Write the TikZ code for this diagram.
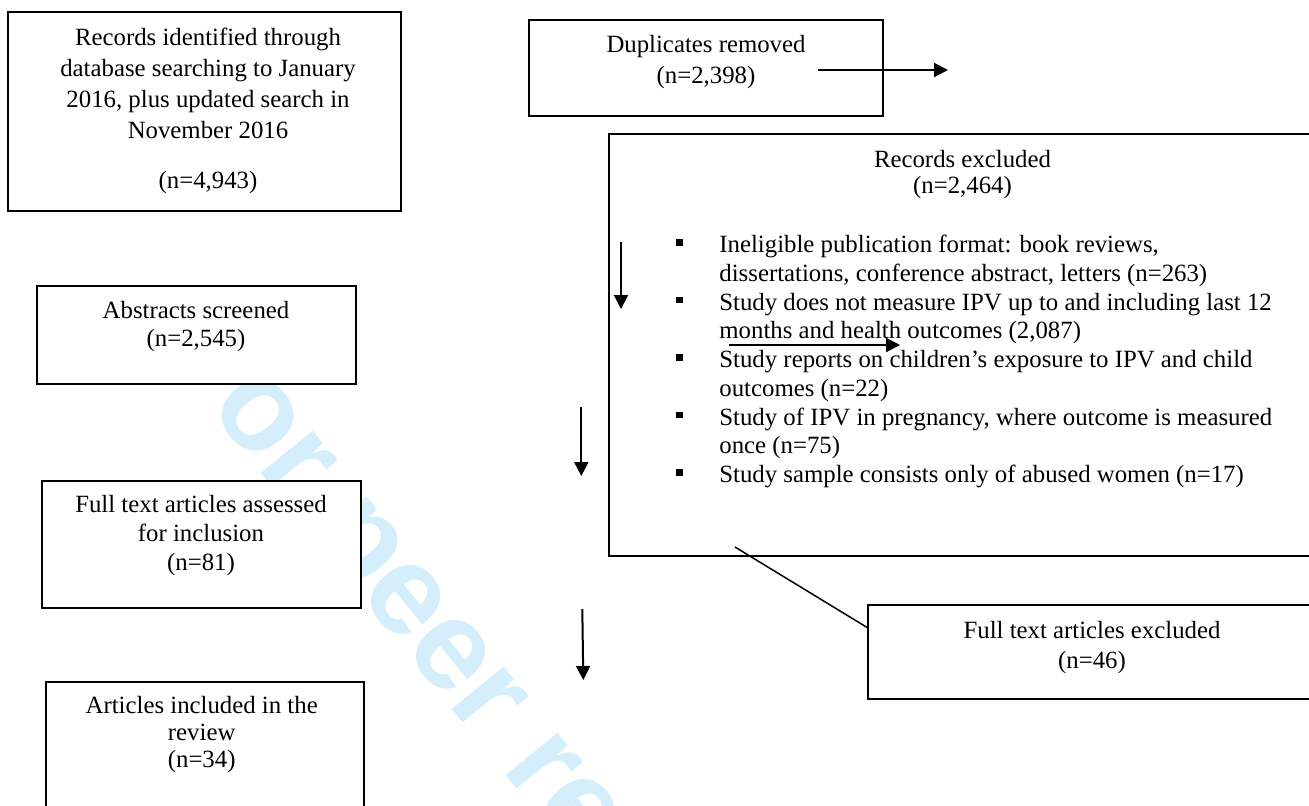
\documentclass[tikz,border=0pt]{standalone}
\usepackage{fontspec}
\setmainfont{Liberation Serif}
\newfontfamily\wmfont{Liberation Sans}
\usetikzlibrary{arrows.meta,fit}
\definecolor{wmblue}{RGB}{212,238,251}
\newcommand\listbullet{\llap{\rule[3.5pt]{3.3pt}{3.3pt}\hspace{18.2pt}}}
\begin{document}
\begin{tikzpicture}[x=0.5pt,y=-0.5pt,
  box/.style={draw=black, line width=0.75pt, fill=white, inner sep=0pt},
  txt/.style={inner sep=0pt, align=center},
  arr/.style={line width=1pt, -{Triangle[length=7pt,width=7pt]}},
  link/.style={line width=0.75pt},
  wm/.style={inner sep=0pt, text=wmblue, font=\wmfont\bfseries\fontsize{63.5}{63.5}\selectfont}]
\useasboundingbox (0,0) rectangle (1309,805);
\begin{scope}
\clip (0,0) rectangle (1309,805);
% watermark
\node[wm, anchor=base west, rotate=-51] (wmk) at (158,346) {For peer review only};
% boxes
\node[box, fit={(8,12)(401,211)}] (rec) {};
\node[box, fit={(529,20)(883,116)}] (dup) {};
\node[box, fit={(609,134)(1330,556)}] (excl) {};
\node[box, fit={(37,286)(356,384)}] (abs) {};
\node[box, fit={(42,481)(361,608)}] (full) {};
\node[box, fit={(46,682)(364,830)}] (incl) {};
\node[box, fit={(868,605)(1330,699)}] (fexc) {};
\end{scope}
% texts (anchor=base is the baseline of the last line)
\node[txt, anchor=base, font=\fontsize{12.4}{15.5}\selectfont] (rect) at (208,188)
  {Records identified through\\database searching to January\\2016, plus updated search in\\November 2016\\[9.5pt](n=4,943)};
\node[txt, anchor=base, font=\fontsize{12.4}{15.5}\selectfont] (dupt) at (706,83.7)
  {Duplicates removed\\(n=2,398)};
\node[txt, anchor=base, font=\fontsize{12.4}{13}\selectfont] (exclt) at (962.5,193)
  {Records excluded\\(n=2,464)};
\node[txt, align=left, anchor=base west, font=\fontsize{12.4}{14.375}\selectfont] (list) at (719,482.7)
  {\listbullet Ineligible publication format: book reviews,\\
   dissertations, conference abstract, letters (n=263)\\
   \listbullet Study does not measure IPV up to and including last 12\\
   months and health outcomes (2,087)\\
   \listbullet Study reports on children’s exposure to IPV and child\\
   outcomes (n=22)\\
   \listbullet Study of IPV in pregnancy, where outcome is measured\\
   once (n=75)\\
   \listbullet Study sample consists only of abused women (n=17)};
\node[txt, anchor=base, font=\fontsize{12.4}{14.2}\selectfont] (abst) at (196,346.7)
  {Abstracts screened\\(n=2,545)};
\node[txt, anchor=base, font=\fontsize{12.4}{14.3}\selectfont] (fullt) at (201,570)
  {Full text articles assessed\\for inclusion\\(n=81)};
\node[txt, anchor=base, font=\fontsize{12.4}{13.5}\selectfont] (inclt) at (201.7,767)
  {Articles included in the\\review\\(n=34)};
\node[txt, anchor=base, font=\fontsize{12.4}{15}\selectfont] (fexct) at (1092,668)
  {Full text articles excluded\\(n=46)};
% connectors
\coordinate (d1s) at (818,70);   \coordinate (d1e) at (948,70);
\coordinate (v1s) at (621,242);  \coordinate (v1e) at (621,309);
\coordinate (h1s) at (729,345);  \coordinate (h1e) at (900,345);
\coordinate (v2s) at (581.3,407); \coordinate (v2e) at (581.3,476);
\coordinate (v3s) at (582.3,609); \coordinate (v3e) at (583.3,680);
\coordinate (l1s) at (735,547);  \coordinate (l1e) at (868,628);
\draw[arr] (d1s) -- (d1e);
\draw[arr] (v1s) -- (v1e);
\draw[arr] (h1s) -- (h1e);
\draw[arr] (v2s) -- (v2e);
\draw[arr] (v3s) -- (v3e);
\draw[link] (l1s) -- (l1e);
\end{tikzpicture}
\end{document}
